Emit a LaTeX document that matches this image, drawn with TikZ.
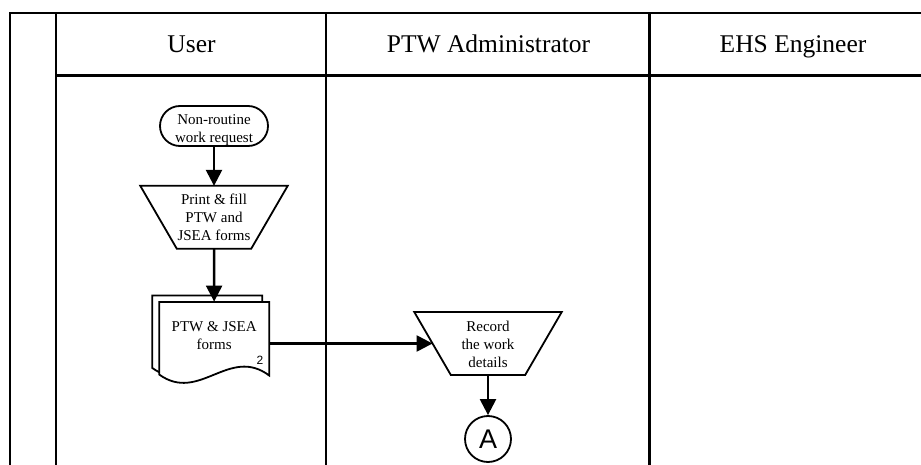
\documentclass[tikz,border=0pt]{standalone}
\usepackage{fontspec}
\setmainfont{Liberation Serif}
\setsansfont{Liberation Sans}
\usetikzlibrary{arrows.meta}
\begin{document}
\begin{tikzpicture}[x=1pt, y=-1pt,
  lane/.style={line width=2.1pt, line join=miter},
  box/.style={draw, line width=1.8pt, fill=white, inner sep=0pt},
  outline/.style={line width=1.8pt, fill=white},
  manual/.style={rectangle, inner sep=0pt, minimum width=147pt, minimum height=62.5pt,
    font=\fontsize{15}{18}\selectfont, align=center},
  term/.style={box, rectangle, rounded corners=20pt,
    minimum width=108pt, minimum height=40pt},
  conn/.style={box, circle, minimum size=46pt},
  flow/.style={line width=2.4pt, -{Triangle[length=16pt,width=16pt]}},
  lbl/.style={font=\fontsize{15}{18}\selectfont, align=center, inner sep=0pt},
  head/.style={font=\fontsize{25.5}{30}\selectfont, inner sep=0pt, anchor=base},
]
\useasboundingbox (0,0) rectangle (921,465);

% swimlane frame
\draw[lane] (10,465) -- (10,13) -- (921,13);
\draw[lane] (56,13) -- (56,465);
\draw[lane] (56,75.5) -- (921,75.5);
\draw[lane] (326,13) -- (326,465);
\draw[lane] (649.5,13) -- (649.5,465);

% lane headers
\node[head] (hUser) at (191.5,53) {User};
\node[head] (hPTW) at (488.5,53) {PTW Administrator};
\node[head] (hEHS) at (793,53) {EHS Engineer};

% start terminator
\node[term] (start) at (214,126) {};
\node[lbl] (starttxt) at (214,130) {Non-routine\\work request};

% manual operation (inverted trapezoid drawn on the node's box)
\node[manual] (print) at (214,217.3) {};
\draw[outline] (print.north west) -- (print.north east)
  -- ([xshift=-36.5pt]print.south east) -- ([xshift=36.5pt]print.south west) -- cycle;
\node[lbl] (printtxt) at (214,217.5) {Print \& fill\\PTW and\\JSEA forms};

% multi-page document
\node[inner sep=0pt, minimum width=109.7pt, minimum height=83.4pt] (doc) at (214.2,343.5) {};
\begin{scope}[shift={(doc.center)}]
  \draw[outline] (-62,24.4) -- (-62,-48.1) -- (48,-48.1) -- (48,25.4)
    .. controls (8,-4.6) and (-22,53.4) .. (-62,24.4) -- cycle;
  \draw[outline] (-55,31) -- (-55,-41.5) -- (55,-41.5) -- (55,32)
    .. controls (15,2) and (-15,60) .. (-55,31) -- cycle;
\end{scope}
\node[lbl] (doctxt) at (214.2,336) {PTW \& JSEA\\forms};
\node[font=\sffamily\fontsize{12}{14}\selectfont, inner sep=0pt] (docnum) at (260,360.5) {2};

% record step
\node[manual] (rec) at (488,343.5) {};
\draw[outline] (rec.north west) -- (rec.north east)
  -- ([xshift=-36.5pt]rec.south east) -- ([xshift=36.5pt]rec.south west) -- cycle;
\node[lbl] (rectxt) at (488,344.5) {Record\\the work\\details};
\coordinate (recin) at ([xshift=18.25pt]rec.west);

% off-page connector
\node[conn, font=\sffamily\fontsize{27}{30}\selectfont] (conA) at (488,439) {A};

% flow
\draw[flow] (start) -- (print);
\draw[flow] (print) -- (doc);
\draw[flow] (doc.east) -- (recin);
\draw[flow] (rec) -- (conA);
\end{tikzpicture}
\end{document}
